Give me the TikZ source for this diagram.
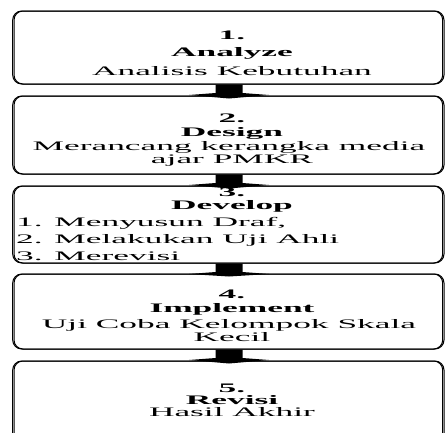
\documentclass[tikz,border=0pt]{standalone}
\usepackage{fontspec}
\setmainfont{Liberation Serif}[FakeStretch=2.72]
\usetikzlibrary{calc}
\tikzset{
  stepbox/.style={draw, line width=1pt, rounded corners=9pt, minimum width=430pt, inner sep=0pt,
    preaction={draw, line width=1pt, transform canvas={xshift=-1.3pt}}},
  txt/.style={anchor=base, inner sep=0pt, font=\fontsize{13}{15}\selectfont},
  hd/.style={anchor=base, inner sep=0pt, font=\fontsize{13}{15}\selectfont\bfseries},
  lst/.style={anchor=base west, inner sep=0pt, font=\fontsize{13}{15}\selectfont},
}
\newcommand\blkarrow[2]{%
  \fill let \p1=(#1.south), \p2=(#2.north) in
    (\x1-13.5pt,\y1) -- (\x1-13.5pt,\y1-8.5pt) -- (\x1-40pt,\y1-10.5pt) --
    (\x1,\y2-3pt) -- (\x1+40pt,\y1-10.5pt) -- (\x1+13.5pt,\y1-8.5pt) --
    (\x1+13.5pt,\y1) -- cycle;}
\begin{document}
\begin{tikzpicture}[x=1pt,y=-1pt]
\useasboundingbox (0,0) rectangle (445,432);
\clip (0,0) rectangle (445,432);
% boxes
\node[stepbox, minimum height=73pt] (b1) at (229,47.5) {};
\node[stepbox, minimum height=78pt] (b2) at (229,135) {};
\node[stepbox, minimum height=77pt] (b3) at (229,224.5) {};
\node[stepbox, minimum height=75pt] (b4) at (229,311.5) {};
\node[stepbox, minimum height=110pt] (b5) at (229,416) {};
% arrows
\blkarrow{b1}{b2}
\blkarrow{b2}{b3}
\blkarrow{b3}{b4}
\blkarrow{b4}{b5}
% texts box 1
\node[hd] (t1a) at (232,39) {1.};
\node[hd] (t1b) at (232,56) {Analyze};
\node[txt] (t1c) at (232,75) {Analisis Kebutuhan};
% box 2
\node[hd] (t2a) at (232,122) {2.};
\node[hd] (t2b) at (232,136) {Design};
\node[txt] (t2c) at (229,150) {Merancang kerangka media};
\node[txt] (t2d) at (232,163) {ajar PMKR};
% box 3
\node[hd] (t3a) at (232,196) {3.};
\node[hd] (t3b) at (232,209) {Develop};
\node[lst] (t3c) at (16,226) {1. Menyusun Draf,};
\node[lst] (t3d) at (16,243) {2. Melakukan Uji Ahli};
\node[lst] (t3e) at (16,260) {3. Merevisi};
% box 4
\node[hd] (t4a) at (232,298) {4.};
\node[hd] (t4b) at (232,312) {Implement};
\node[txt] (t4c) at (229,328) {Uji Coba Kelompok Skala};
\node[txt] (t4d) at (232,341) {Kecil};
% box 5
\node[hd] (t5a) at (232,392) {5.};
\node[hd] (t5b) at (232,404) {Revisi};
\node[txt] (t5c) at (232,416) {Hasil Akhir};
\end{tikzpicture}
\end{document}
